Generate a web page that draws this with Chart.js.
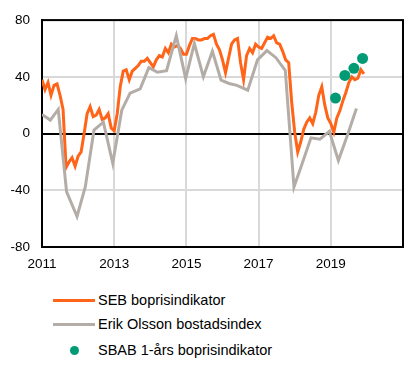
<!DOCTYPE html>
<html>
<head>
<meta charset="utf-8">
<script src="https://cdn.jsdelivr.net/npm/chart.js@4/dist/chart.umd.min.js"></script>
<style>
html,body{margin:0;padding:0;background:#fff;}
#wrap{position:relative;width:420px;height:367px;overflow:hidden;}
#chartBox{position:absolute;left:0;top:0;width:420px;height:285px;}
.lg{position:absolute;font-family:"Liberation Sans",Arial,sans-serif;font-size:14.5px;color:#000;line-height:16px;white-space:nowrap;}
.ln{position:absolute;height:3px;}
.dot{position:absolute;border-radius:50%;}
</style>
</head>
<body>
<div id="wrap">
  <div id="chartBox"><canvas id="c"></canvas></div>
  <div id="legend"></div>
</div>
<script>
// ---- Data ----
const seriesNames = ["SEB boprisindikator", "Erik Olsson bostadsindex", "SBAB 1-års boprisindikator"];

// SEB boprisindikator, monthly from Jan 2011 to Dec 2019
const sebStartYear = 2011;
const sebValues = [
  38, 31, 36, 27, 34, 35, 27, 17, -24, -20, -17, -23,   // 2011
  -16, -13, 0, 14, 19, 12, 13, 17, 10, 11, 14, 4,       // 2012
  2, 14, 33, 44, 45, 38, 44, 46, 48, 51, 51, 53,        // 2013
  50, 47, 52, 55, 54, 60, 57, 63, 61, 62, 60, 56,       // 2014
  56, 62, 67, 67, 66, 66, 67, 67, 69, 70, 63, 59,       // 2015
  52, 43, 53, 63, 66, 67, 50, 38, 55, 60, 57, 63,       // 2016
  61, 60, 64, 68, 67, 69, 64, 63, 58, 52, 50, 22,       // 2017
  1, -13, -6, 3, 8, 11, 7, 15, 27, 33, 20, 11,          // 2018
  7, 1, 11, 16, 23, 29, 36, 40, 38, 39, 45, 42          // 2019
];

// Erik Olsson bostadsindex (decimal year, value)
const erikDates = [
  2011.00, 2011.23, 2011.45, 2011.68, 2011.97, 2012.20, 2012.44, 2012.70, 2012.96,
  2013.21, 2013.44, 2013.72, 2013.96, 2014.20, 2014.45, 2014.72, 2014.98,
  2015.22, 2015.47, 2015.72, 2015.96, 2016.18, 2016.40, 2016.70, 2016.97,
  2017.23, 2017.48, 2017.74, 2017.98, 2018.21, 2018.45, 2018.70, 2018.96,
  2019.21, 2019.47, 2019.71
];
const erikValues = [
  13.5, 9.5, 17, -41, -58.5, -37.5, 2.5, 8, -21,
  16.5, 28.5, 31.5, 46.5, 43.2, 44.3, 69, 38.8,
  63.5, 40, 58, 37.6, 35.3, 34, 30.6, 52,
  58.5, 53.5, 44.5, -37.7, -21, -3, -4, 1.5,
  -19, -0.5, 17.6
];

// SBAB 1-års boprisindikator
const sbabDates = [2019.13, 2019.39, 2019.64, 2019.88];
const sbabValues = [25, 41, 46, 53];

// Axis ticks
const xTickMin = 2011, xTickMax = 2021, xTickStep = 2;
const yTickMin = -80, yTickMax = 80, yTickStep = 40;

// ---- Build ----
const colors = { seb: "#ff6418", erik: "#b4ada7", sbab: "#009a74" };
const sebPoints = sebValues.map((v, i) => ({ x: sebStartYear + i / 12, y: v }));
const erikPoints = erikValues.map((v, i) => ({ x: erikDates[i], y: v }));
const sbabPoints = sbabValues.map((v, i) => ({ x: sbabDates[i], y: v }));

const frame = {
  id: "frame",
  beforeDatasetsDraw(chart) {
    const { ctx, chartArea: a } = chart;
    ctx.save();
    ctx.strokeStyle = "#000";
    ctx.lineWidth = 2;
    ctx.strokeRect(a.left, a.top, a.right - a.left, a.bottom - a.top);
    ctx.restore();
  }
};

const tickFont = { family: "'Liberation Sans', Arial, sans-serif", size: 13.5 };

new Chart(document.getElementById("c"), {
  type: "line",
  data: {
    datasets: [
      { label: seriesNames[0], data: sebPoints, borderColor: colors.seb, backgroundColor: colors.seb,
        borderWidth: 3, pointRadius: 0, tension: 0, order: 2 },
      { label: seriesNames[1], data: erikPoints, borderColor: colors.erik, backgroundColor: colors.erik,
        borderWidth: 3, pointRadius: 0, tension: 0, order: 1 },
      { label: seriesNames[2], data: sbabPoints, borderColor: colors.sbab, backgroundColor: colors.sbab,
        showLine: false, pointRadius: 5.5, pointHoverRadius: 5.5, borderWidth: 0, order: 0 }
    ]
  },
  options: {
    responsive: true,
    maintainAspectRatio: false,
    animation: false,
    events: [],
    layout: { padding: { left: 0, right: 17, top: 20, bottom: 0 } },
    plugins: { legend: { display: false }, tooltip: { enabled: false } },
    scales: {
      x: {
        type: "linear", min: xTickMin, max: xTickMax,
        afterFit(s) { s.height = 38; },
        ticks: { stepSize: xTickStep, color: "#000", font: tickFont, padding: 9, maxRotation: 0,
                 callback: v => (v === xTickMax ? "" : String(v)) },
        grid: { drawTicks: false, lineWidth: 2,
                color: c => (c.tick && (c.tick.value === xTickMin || c.tick.value === xTickMax)) ? "rgba(0,0,0,0)" : "#d9d9d9" },
        border: { display: true, color: "#000", width: 2 }
      },
      y: {
        min: yTickMin, max: yTickMax,
        afterFit(s) { s.width = 42; },
        ticks: { stepSize: yTickStep, color: "#000", font: tickFont, padding: 12 },
        grid: { drawTicks: false,
                lineWidth: 2,
                color: c => {
                  if (!c.tick) return "#d9d9d9";
                  if (c.tick.value === 0) return "#000";
                  if (Math.abs(c.tick.value) === 80) return "rgba(0,0,0,0)";
                  return "#d9d9d9";
                } },
        border: { display: true, color: "#000", width: 2 }
      }
    }
  },
  plugins: [frame]
});

// ---- HTML legend ----
const lg = document.getElementById("legend");
const rows = [
  { y: 300, type: "line", color: colors.seb, text: seriesNames[0] },
  { y: 324, type: "line", color: colors.erik, text: seriesNames[1] },
  { y: 350, type: "dot", color: colors.sbab, text: seriesNames[2] }
];
rows.forEach(r => {
  if (r.type === "line") {
    const d = document.createElement("div");
    d.className = "ln";
    d.style.left = "53px"; d.style.width = "42px"; d.style.top = (r.y - 1.5) + "px";
    d.style.background = r.color;
    lg.appendChild(d);
  } else {
    const d = document.createElement("div");
    d.className = "dot";
    d.style.left = (74 - 4.5) + "px"; d.style.top = (r.y - 4.5) + "px";
    d.style.width = "9px"; d.style.height = "9px"; d.style.background = r.color;
    lg.appendChild(d);
  }
  const t = document.createElement("div");
  t.className = "lg";
  t.style.left = "98px"; t.style.top = (r.y - 8) + "px";
  t.textContent = r.text;
  lg.appendChild(t);
});
</script>
</body>
</html>
